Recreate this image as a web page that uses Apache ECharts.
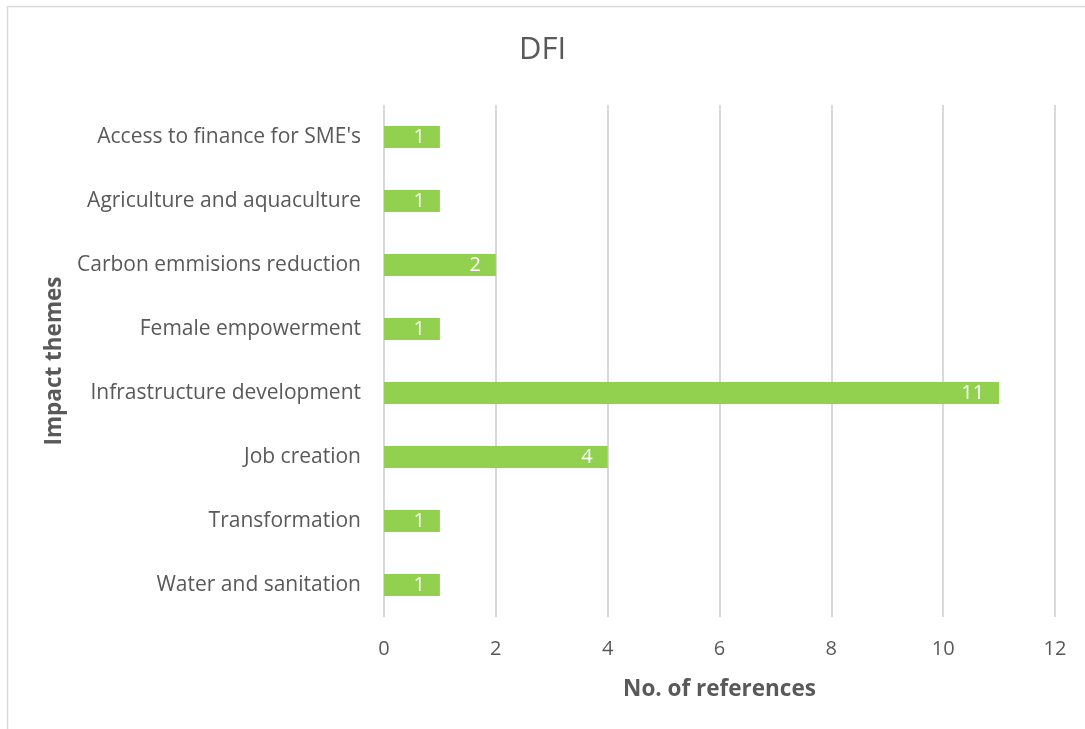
<!DOCTYPE html>
<html>
<head>
<meta charset="utf-8">
<script src="https://cdn.jsdelivr.net/npm/echarts@6/dist/echarts.min.js"></script>
<style>
  html, body { margin: 0; padding: 0; background: #ffffff; }
  #chart { width: 1085px; height: 729px; }
</style>
</head>
<body>
<div id="chart"></div>
<script>
// Impact themes, listed top to bottom
const themes = [
  "Access to finance for SME's",
  "Agriculture and aquaculture",
  "Carbon emmisions reduction",
  "Female empowerment",
  "Infrastructure development",
  "Job creation",
  "Transformation",
  "Water and sanitation"
];
// Number of references per theme
const references = [1, 1, 2, 1, 11, 4, 1, 1];
const xTicks = [0, 2, 4, 6, 8, 10, 12];

const font = '"Open Sans", Lato, sans-serif';
const grey = '#595959';

const chart = echarts.init(document.getElementById('chart'));
chart.setOption({
  backgroundColor: '#ffffff',
  animation: false,
  graphic: [{
    type: 'rect',
    shape: { x: 7.5, y: 6.5, width: 1100, height: 760 },
    style: { fill: 'none', stroke: '#d9d9d9', lineWidth: 1.5 },
    silent: true
  }],
  title: {
    text: 'DFI',
    left: 'center',
    top: 30,
    textStyle: { fontFamily: font, fontSize: 31, fontWeight: 'normal', color: grey }
  },
  grid: { left: 384, right: 30, top: 105, bottom: 112 },
  xAxis: {
    type: 'value',
    min: xTicks[0],
    max: xTicks[xTicks.length - 1],
    interval: 2,
    name: 'No. of references',
    nameLocation: 'middle',
    nameGap: 61,
    nameTextStyle: { fontFamily: font, fontSize: 22.5, fontWeight: 'bold', color: grey },
    axisLine: { show: false },
    axisTick: { show: false },
    axisLabel: { fontFamily: font, fontSize: 20, color: grey, margin: 22 },
    splitLine: { show: true, lineStyle: { color: '#d9d9d9', width: 2 } }
  },
  yAxis: {
    type: 'category',
    data: themes,
    inverse: true,
    name: 'Impact themes',
    nameLocation: 'middle',
    nameGap: 307,
    nameRotate: 90,
    nameTextStyle: { fontFamily: font, fontSize: 22.5, fontWeight: 'bold', color: grey },
    axisLine: { show: false },
    axisTick: { show: false },
    axisLabel: { fontFamily: font, fontSize: 21, color: grey, margin: 23 }
  },
  series: [{
    type: 'bar',
    data: references,
    barWidth: 22,
    itemStyle: { color: '#92d050' },
    label: {
      show: true,
      position: 'insideRight',
      distance: 15,
      color: '#ffffff',
      fontFamily: font,
      fontSize: 20
    }
  }]
});
</script>
</body>
</html>
